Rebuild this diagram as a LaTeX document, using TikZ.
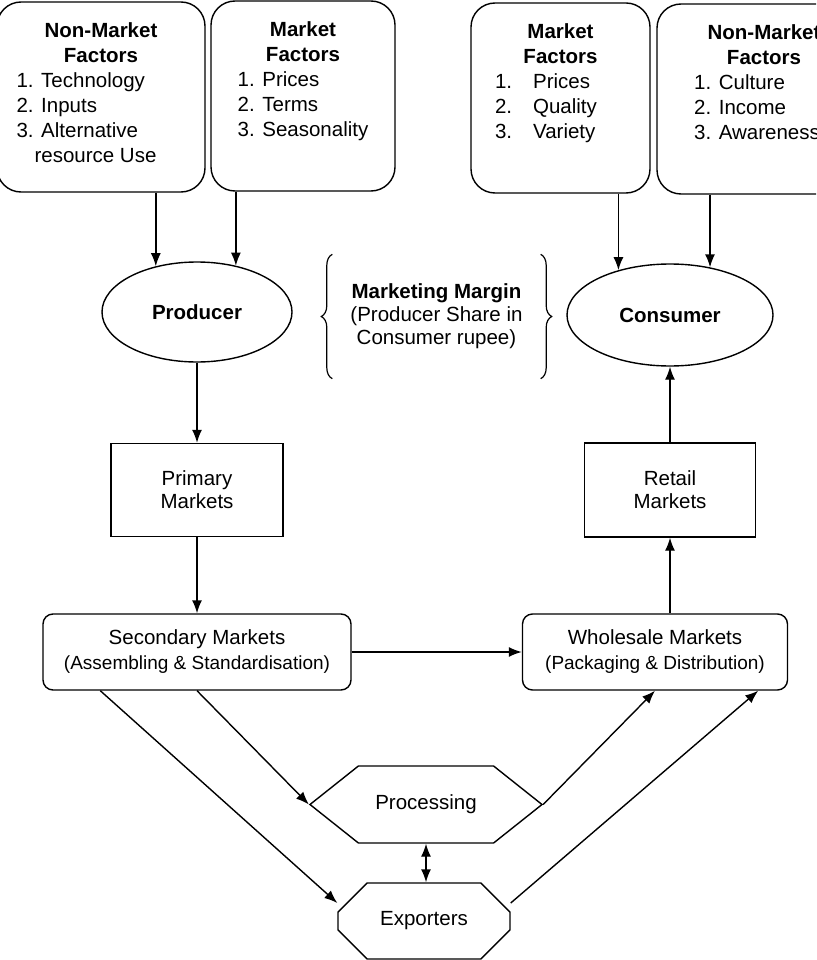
\documentclass[tikz,border=0pt]{standalone}
\usepackage{fontspec}
\setmainfont{Liberation Sans}
\usepackage{tikz}
\usetikzlibrary{shapes,arrows,arrows.meta,positioning,calc,decorations.pathreplacing}
\newcommand{\bigtext}{\fontsize{20.5}{25}\selectfont}
\newcommand{\smalltext}{\fontsize{19}{25}\selectfont}
\tikzset{
	factor/.style = {draw, rectangle, rounded corners=24pt, inner sep=0pt, text height=36pt, text depth=154pt},
	actor/.style = {draw, ellipse, inner sep=0pt, font=\bfseries\bigtext},
	market/.style = {draw, rectangle, inner sep=0pt, align=center, font=\fontsize{20.5}{23}\selectfont},
	channel/.style = {draw, rectangle, rounded corners=10pt, inner sep=0pt, align=center, minimum height=76pt},
	brace/.style = {decorate, decoration={brace, amplitude=11pt}, line width=1.2pt}
}

\begin{document}
\begin{tikzpicture}[x=1pt, y=-1pt, >={Latex[length=13pt,width=10pt]}, line width=1.4pt, every node/.style={font=\bigtext}]
    \useasboundingbox (0,0) rectangle (816,960);
    \clip (0,0) rectangle (816,960);

    % factors acting on both ends
    \node [factor, minimum width=208pt] (prodnonmkt) at (101,97) {\begin{tabular}[t]{@{}l@{\hspace{29pt}}}
        \multicolumn{1}{@{}c@{}}{\bfseries Non-Market}\\
        \multicolumn{1}{@{}c@{}}{\bfseries Factors}\\
        1. Technology\\
        2. Inputs\\
        3. Alternative\\
        \hspace{18pt}resource Use
    \end{tabular}};
    \node [factor, minimum width=184pt] (prodmkt) at (303,96) {\begin{tabular}[t]{@{}l@{}}
        \multicolumn{1}{@{}c@{}}{\bfseries Market}\\
        \multicolumn{1}{@{}c@{}}{\bfseries Factors}\\
        1. Prices\\
        2. Terms\\
        3. Seasonality
    \end{tabular}};
    \node [factor, minimum width=179pt] (consmkt) at (560.5,98) {\begin{tabular}[t]{@{}l@{\hspace{29pt}}}
        \multicolumn{1}{@{}c@{}}{\bfseries Market}\\
        \multicolumn{1}{@{}c@{}}{\bfseries Factors}\\
        1.\hspace{21pt}Prices\\
        2.\hspace{21pt}Quality\\
        3.\hspace{21pt}Variety
    \end{tabular}};
    \node [factor, minimum width=214pt] (consnonmkt) at (764,99) {\begin{tabular}[t]{@{}l@{\hspace{14pt}}}
        \multicolumn{1}{@{}c@{}}{\bfseries Non-Market}\\
        \multicolumn{1}{@{}c@{}}{\bfseries Factors}\\
        1. Culture\\
        2. Income\\
        3. Awareness
    \end{tabular}};

    \node [actor, minimum width=190pt, minimum height=100pt] (producer) at (197,312) {Producer};
    \node [actor, minimum width=206pt, minimum height=102pt] (consumer) at (670,315) {Consumer};
    \node [minimum width=207pt, minimum height=123pt, inner sep=0pt, align=center, font=\fontsize{20.5}{23}\selectfont] (margin) at (436.5,316.5) {\textbf{Marketing Margin}\\(Producer Share in\\Consumer rupee)};

    \node [market, below of=producer, node distance=178pt, minimum width=172pt, minimum height=93pt] (primary) {Primary\\Markets};
    \node [channel, below of=primary, node distance=162pt, minimum width=308pt] (secondary) {Secondary Markets\\{\smalltext (Assembling \& Standardisation)}};
    \node [market, below of=consumer, node distance=175pt, minimum width=171pt, minimum height=94pt] (retail) {Retail\\Markets};
    \node [channel, right of=secondary, node distance=458pt, minimum width=265pt] (wholesale) {Wholesale Markets\\{\smalltext (Packaging \& Distribution)}};

    \node [draw, signal, signal to=west and east, signal pointer angle=77, minimum width=232pt, minimum height=77pt, inner sep=0pt] (processing) at (426,804.5) {Processing};
    \node [draw, chamfered rectangle, chamfered rectangle xsep=22pt, chamfered rectangle ysep=20pt, minimum width=172pt, minimum height=76pt, inner sep=0pt] (exporters) at (424,921) {Exporters};

    \draw [->] (prodnonmkt.south -| producer.132) -- (producer.132);
    \draw [->] (prodmkt.south -| producer.50) -- (producer.50);
    \draw [->] (consmkt.south -| consumer.139) -- (consumer.139);
    \draw [->] (consnonmkt.south -| consumer.50) -- (consumer.50);

    \draw [brace] (margin.south west) -- (margin.north west);
    \draw [brace] (margin.north east) -- (margin.south east);

    \draw [->] (producer) -- (primary);
    \draw [->] (primary) -- (secondary);
    \draw [->] (secondary) -- (wholesale);
    \draw [->] (wholesale.north -| retail.south) -- (retail.south);
    \draw [->] (retail) -- (consumer);

    \draw [->] (secondary.south) -- (processing.west);
    \draw [->] ([xshift=58pt]secondary.south west) -- ([yshift=18pt]exporters.west);
    \draw [->] (processing.east) -- (wholesale.south);
    \draw [->] ([yshift=18pt]exporters.east) -- ([xshift=-30pt]wholesale.south east);
    \draw [<->] (processing.south) -- (processing.south |- exporters.north);
\end{tikzpicture}
\end{document}
